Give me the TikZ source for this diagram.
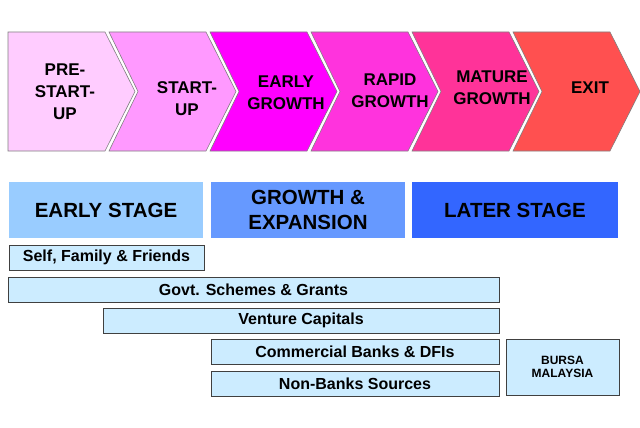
\documentclass[tikz,border=0pt]{standalone}
\usepackage{fontspec}
\setmainfont{Liberation Sans}
\definecolor{cA}{HTML}{FFCCFF}
\definecolor{cB}{HTML}{FF99FF}
\definecolor{cC}{HTML}{FF00FF}
\definecolor{cD}{HTML}{FF33DD}
\definecolor{cE}{HTML}{FF3399}
\definecolor{cF}{HTML}{FF5050}
\definecolor{sA}{HTML}{99CCFF}
\definecolor{sB}{HTML}{6699FF}
\definecolor{sC}{HTML}{3366FF}
\definecolor{fundblue}{HTML}{CCECFF}
\begin{document}
\begin{tikzpicture}[x=1pt,y=-1pt,
  chev/.style={draw=black!50, line width=0.6pt},
  ctext/.style={font=\bfseries\fontsize{17}{22}\selectfont, align=center, inner sep=0pt},
  stagebar/.style={draw=none, inner sep=0pt, font=\bfseries\fontsize{20.5}{25}\selectfont, align=center, minimum height=56pt},
  fund/.style={draw=black!75, line width=0.7pt, fill=fundblue, inner sep=0pt, minimum height=25pt, font=\bfseries\fontsize{16}{19}\selectfont},
  bursa/.style={fund, font=\bfseries\fontsize{12}{12.5}\selectfont, align=center}
]
\useasboundingbox (0,0) rectangle (640,428);
% chevrons
\path[chev, fill=cA] (8,32) -- (105,32) -- (135,91.5) -- (105,151) -- (8,151) -- cycle;
\foreach \L/\col in {109/cB, 210/cC, 311/cD, 412/cE, 513/cF}{
  \path[chev, fill=\col] (\L,32) -- (\L+97,32) -- (\L+127,91.5) -- (\L+97,151) -- (\L,151) -- (\L+29,91.5) -- cycle;
}
\node[ctext] (pre) at (65,91.5) {PRE-\\START-\\UP};
\node[ctext] (start) at (187,99) {START-\\UP};
\node[ctext] (early) at (286,93) {EARLY\\GROWTH};
\node[ctext] (rapid) at (390,91) {RAPID\\GROWTH};
\node[ctext] (mature) at (492,88) {MATURE\\GROWTH};
\node[ctext] (exit) at (590,88) {EXIT};
% stage bars
\node[stagebar, fill=sA, minimum width=194pt] (es) at (106,210) {EARLY STAGE};
\node[stagebar, fill=sB, minimum width=194pt] (ge) at (308,210) {GROWTH \&\\EXPANSION};
\node[stagebar, fill=sC, minimum width=206pt] (ls) at (515,210) {LATER STAGE};
% funding sources
\node[fund, minimum width=195pt] (sff) at (106.5,257.5) {Self, Family \& Friends};
\node[fund, minimum width=491pt] (gov) at (253.5,289.5) {Govt. Schemes \& Grants};
\node[fund, minimum width=396pt] (vc) at (301,320.5) {Venture Capitals};
\node[fund, minimum width=288pt] (cb) at (355,351.5) {Commercial Banks \& DFIs};
\node[fund, minimum width=288pt] (nb) at (355,383.5) {Non-Banks Sources};
\node[bursa, minimum width=113pt, minimum height=56pt] (bm) at (562.5,367) {BURSA\\MALAYSIA};
\end{tikzpicture}
\end{document}
